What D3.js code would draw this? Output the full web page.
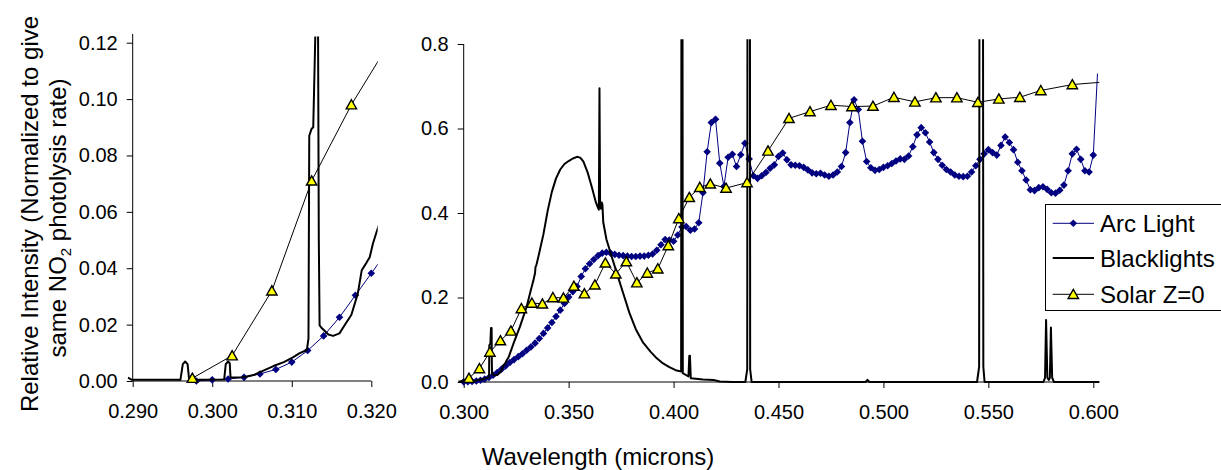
<!DOCTYPE html>
<html>
<head>
<meta charset="utf-8">
<script src="https://cdn.jsdelivr.net/npm/d3@7"></script>
<style>
  body { margin: 0; background: #fff; }
  text { font-family: "Liberation Sans", Arial, sans-serif; fill: #000; }
</style>
</head>
<body>
<script>
// Arc light, sampled every 0.002 micron
const arcWavelength = [
  0.298, 0.300, 0.302, 0.304, 0.306, 0.308, 0.310, 0.312, 0.314, 0.316,
  0.318, 0.320, 0.322, 0.324, 0.326, 0.328, 0.330, 0.332, 0.334, 0.336,
  0.338, 0.340, 0.342, 0.344, 0.346, 0.348, 0.350, 0.352, 0.354, 0.356,
  0.358, 0.360, 0.362, 0.364, 0.366, 0.368, 0.370, 0.372, 0.374, 0.376,
  0.378, 0.380, 0.382, 0.384, 0.386, 0.388, 0.390, 0.392, 0.394, 0.396,
  0.398, 0.400, 0.402, 0.404, 0.406, 0.408, 0.410, 0.412, 0.414, 0.416,
  0.418, 0.420, 0.422, 0.424, 0.426, 0.428, 0.430, 0.432, 0.434, 0.436,
  0.438, 0.440, 0.442, 0.444, 0.446, 0.448, 0.450, 0.452, 0.454, 0.456,
  0.458, 0.460, 0.462, 0.464, 0.466, 0.468, 0.470, 0.472, 0.474, 0.476,
  0.478, 0.480, 0.482, 0.484, 0.486, 0.488, 0.490, 0.492, 0.494, 0.496,
  0.498, 0.500, 0.502, 0.504, 0.506, 0.508, 0.510, 0.512, 0.514, 0.516,
  0.518, 0.520, 0.522, 0.524, 0.526, 0.528, 0.530, 0.532, 0.534, 0.536,
  0.538, 0.540, 0.542, 0.544, 0.546, 0.548, 0.550, 0.552, 0.554, 0.556,
  0.558, 0.560, 0.562, 0.564, 0.566, 0.568, 0.570, 0.572, 0.574, 0.576,
  0.578, 0.580, 0.582, 0.584, 0.586, 0.588, 0.590, 0.592, 0.594, 0.596,
  0.598, 0.600, 0.602
];
const arcIntensity = [
  0.0000, 0.0004, 0.0007, 0.0013, 0.0025, 0.0041, 0.0067, 0.0108, 0.0160, 0.0226,
  0.0304, 0.0382, 0.046, 0.053, 0.060, 0.067, 0.075, 0.083, 0.092, 0.103,
  0.115, 0.128, 0.141, 0.155, 0.170, 0.186, 0.201, 0.214, 0.226, 0.250,
  0.268, 0.280, 0.290, 0.299, 0.305, 0.307, 0.305, 0.302, 0.300, 0.299,
  0.298, 0.297, 0.297, 0.298, 0.298, 0.300, 0.303, 0.312, 0.325, 0.337,
  0.336, 0.333, 0.348, 0.367, 0.368, 0.359, 0.362, 0.377, 0.448, 0.545,
  0.614, 0.622, 0.518, 0.463, 0.532, 0.539, 0.510, 0.538, 0.565, 0.528,
  0.488, 0.482, 0.488, 0.496, 0.506, 0.514, 0.534, 0.542, 0.526, 0.514,
  0.513, 0.512, 0.508, 0.502, 0.495, 0.493, 0.494, 0.490, 0.487, 0.490,
  0.497, 0.510, 0.543, 0.614, 0.668, 0.645, 0.570, 0.522, 0.507, 0.501,
  0.503, 0.508, 0.512, 0.517, 0.523, 0.528, 0.527, 0.535, 0.557, 0.585,
  0.602, 0.590, 0.568, 0.543, 0.527, 0.513, 0.503, 0.497, 0.490, 0.487,
  0.486, 0.487, 0.497, 0.512, 0.527, 0.540, 0.550, 0.543, 0.537, 0.560,
  0.580, 0.567, 0.550, 0.520, 0.500, 0.478, 0.455, 0.453, 0.460, 0.462,
  0.456, 0.448, 0.447, 0.454, 0.466, 0.500, 0.540, 0.551, 0.527, 0.500,
  0.497, 0.537, 0.730
];

// Blacklights, high resolution spectrum (mercury lines go off scale)
const blackWavelength = [
  0.2894, 0.2899, 0.2960, 0.2963, 0.2966, 0.2969, 0.2971, 0.3015, 0.3017, 0.3020,
  0.3022, 0.3023, 0.3027, 0.3039, 0.3052, 0.3065, 0.3077, 0.3090, 0.3102, 0.3110,
  0.3119, 0.3121, 0.3122, 0.3125, 0.3127, 0.3129, 0.3130, 0.3133, 0.3134, 0.3135,
  0.3138, 0.3146, 0.3152, 0.3160, 0.3166, 0.3175, 0.3183, 0.3188, 0.3194, 0.3198,
  0.3202, 0.3206, 0.3215, 0.3238, 0.3268, 0.3300, 0.3320, 0.3332, 0.3340, 0.3342,
  0.3346, 0.3356, 0.3380, 0.3400, 0.3420, 0.3440, 0.3460, 0.3480, 0.3500, 0.3520,
  0.3540, 0.3555, 0.3570, 0.3590, 0.3610, 0.3630, 0.3640, 0.3644, 0.3647, 0.3650,
  0.3655, 0.3658, 0.3661, 0.3665, 0.3680, 0.3705, 0.3730, 0.3760, 0.3790, 0.3820,
  0.3855, 0.3890, 0.3920, 0.3950, 0.3980, 0.4010, 0.4036, 0.4040, 0.4044,
  0.4071, 0.4075, 0.4078, 0.4082, 0.4140, 0.4190, 0.4220, 0.4280, 0.4342, 0.4351,
  0.4356, 0.4360, 0.4365, 0.4372, 0.4915, 0.4924, 0.4933, 0.5446, 0.5456, 0.5463,
  0.5469, 0.5476, 0.5482, 0.5762, 0.5770, 0.5775, 0.5781, 0.5788, 0.5793, 0.5798,
  0.5804, 0.5813, 0.6050
];
const blackIntensity = [
  0.0012, 0.0004, 0.0004, 0.0060, 0.0069, 0.0060, 0.0004, 0.0005, 0.0060, 0.0069,
  0.0063, 0.0013, 0.0012, 0.0013, 0.0021, 0.0038, 0.0053, 0.0067, 0.0085, 0.0099,
  0.0110, 0.0150, 0.0870, 0.0895, 0.0900, 0.1150, 0.1280, 0.1280, 0.0500, 0.0197,
  0.0187, 0.0165, 0.0160, 0.0169, 0.0196, 0.0235, 0.0310, 0.0393, 0.0420, 0.0439,
  0.0487, 0.0523, 0.060, 0.092, 0.131, 0.178, 0.218, 0.240, 0.258, 0.272,
  0.276, 0.297, 0.350, 0.405, 0.450, 0.482, 0.503, 0.516, 0.523, 0.529,
  0.533, 0.531, 0.522, 0.497, 0.462, 0.425, 0.412, 0.408, 0.695, 0.415,
  0.410, 0.425, 0.420, 0.378, 0.338, 0.297, 0.257, 0.210, 0.163, 0.125,
  0.093, 0.072, 0.056, 0.044, 0.035, 0.028, 0.025, 2.500, 0.021,
  0.013, 0.062, 0.062, 0.009, 0.006, 0.005, 0.001, 0.000, 0.000, 0.030,
  4.000, 4.000, 0.030, 0.000, 0.000, 0.005, 0.000, 0.000, 0.036, 4.000,
  4.000, 0.036, 0.000, 0.000, 0.010, 0.147, 0.010, 0.005, 0.010, 0.129,
  0.010, 0.000, 0.000
];

// Solar, zenith angle 0
const solarWavelength = [
  0.2975, 0.3025, 0.3075, 0.3125, 0.3175, 0.3225, 0.3275, 0.3325, 0.3375, 0.3425,
  0.3475, 0.3525, 0.3575, 0.3625, 0.3675, 0.3725, 0.3775, 0.3825, 0.3875, 0.3925,
  0.3975, 0.4025, 0.4075, 0.4125, 0.4175, 0.425, 0.435, 0.445, 0.455, 0.465,
  0.475, 0.485, 0.495, 0.505, 0.515, 0.525, 0.535, 0.545, 0.555, 0.565,
  0.575, 0.590, 0.610
];
const solarIntensity = [
  0.001, 0.009, 0.032, 0.071, 0.098, 0.121, 0.174, 0.187, 0.185, 0.200,
  0.199, 0.227, 0.209, 0.230, 0.282, 0.256, 0.285, 0.235, 0.258, 0.268,
  0.323, 0.387, 0.437, 0.461, 0.469, 0.459, 0.472, 0.547, 0.624, 0.640,
  0.655, 0.652, 0.653, 0.674, 0.663, 0.673, 0.673, 0.662, 0.670, 0.674,
  0.690, 0.704, 0.712
];

const leftXTicks = [0.290, 0.300, 0.310, 0.320];
const leftYTicks = [0, 0.02, 0.04, 0.06, 0.08, 0.10, 0.12];
const rightXTicks = [0.300, 0.350, 0.400, 0.450, 0.500, 0.550, 0.600];
const rightYTicks = [0, 0.2, 0.4, 0.6, 0.8];

const seriesNames = ["Arc Light", "Blacklights", "Solar Z=0"];

const NAVY = "#000080";
const FONT = "'Liberation Sans', Arial, sans-serif";

const arc = arcWavelength.map((w, i) => [w, arcIntensity[i]]);
const black = blackWavelength.map((w, i) => [w, blackIntensity[i]]);
const solar = solarWavelength.map((w, i) => [w, solarIntensity[i]]);

const diamond = "M0,-3.8L3.8,0L0,3.8L-3.8,0Z";
const triangle = "M0,-5L5.2,4.2L-5.2,4.2Z";

const svg = d3.select("body").append("svg")
    .attr("width", 1221)
    .attr("height", 470);

svg.append("rect").attr("width", 1221).attr("height", 470).attr("fill", "#fff");

const panels = [
  {
    xDomain: [0.290, 0.320], xRange: [132.7, 371.3],
    yDomain: [0, 0.12], yRange: [381, 42.7],
    xTicks: leftXTicks, yTicks: leftYTicks, yFmt: ".2f",
    clip: [127.5, 36.5, 377.7, 387], xEnd: 371.3, yTop: 34
  },
  {
    xDomain: [0.300, 0.600], xRange: [463.7, 1093.3],
    yDomain: [0, 0.8], yRange: [382, 44],
    xTicks: rightXTicks, yTicks: rightYTicks, yFmt: ".1f",
    clip: [458.5, 39.3, 1099.3, 388], xEnd: 1099.3, yTop: 44
  }
];

panels.forEach((p, i) => {
  const x = d3.scaleLinear().domain(p.xDomain).range(p.xRange);
  const y = d3.scaleLinear().domain(p.yDomain).range(p.yRange);

  svg.append("clipPath").attr("id", "clip" + i)
    .append("rect")
      .attr("x", p.clip[0]).attr("y", p.clip[1])
      .attr("width", p.clip[2] - p.clip[0])
      .attr("height", p.clip[3] - p.clip[1]);

  // axes
  const gx = svg.append("g")
      .attr("transform", "translate(0," + p.yRange[0] + ")")
      .call(d3.axisBottom(x).tickValues(p.xTicks).tickFormat(d3.format(".3f"))
        .tickSize(6).tickSizeOuter(0).tickPadding(17));
  gx.select(".domain").remove();
  gx.attr("font-family", FONT).attr("font-size", 20);
  gx.selectAll("line").attr("stroke", "#000");

  const gy = svg.append("g")
      .attr("transform", "translate(" + p.xRange[0] + ",0)")
      .call(d3.axisLeft(y).tickValues(p.yTicks).tickFormat(d3.format(p.yFmt))
        .tickSize(6).tickSizeOuter(0).tickPadding(9));
  gy.select(".domain").remove();
  gy.attr("font-family", FONT).attr("font-size", 20);
  gy.selectAll("line").attr("stroke", "#000");

  svg.append("line")
      .attr("x1", p.xRange[0]).attr("x2", p.xEnd)
      .attr("y1", p.yRange[0]).attr("y2", p.yRange[0])
      .attr("stroke", "#000").attr("stroke-width", 1);
  svg.append("line")
      .attr("x1", p.xRange[0]).attr("x2", p.xRange[0])
      .attr("y1", p.yTop).attr("y2", p.yRange[0])
      .attr("stroke", "#000").attr("stroke-width", 1);

  const plot = svg.append("g").attr("clip-path", "url(#clip" + i + ")");
  const line = d3.line().x(d => x(d[0])).y(d => y(d[1]));
  const inside = d => d[0] >= p.xDomain[0] - 1e-6 && d[0] <= p.xDomain[1] + 1e-6 &&
                      d[1] >= p.yDomain[0] && d[1] <= p.yDomain[1];

  // Arc Light
  plot.append("path").datum(arc)
      .attr("d", line).attr("fill", "none")
      .attr("stroke", NAVY).attr("stroke-width", 1);
  plot.append("g").selectAll("path")
    .data(arc.filter(inside))
    .join("path")
      .attr("transform", d => "translate(" + x(d[0]) + "," + y(d[1]) + ")")
      .attr("d", diamond)
      .attr("fill", NAVY);

  // Blacklights
  plot.append("path").datum(black)
      .attr("d", line).attr("fill", "none")
      .attr("stroke", "#000").attr("stroke-width", 2)
      .attr("stroke-linejoin", "round");

  // Solar Z=0
  plot.append("path").datum(solar)
      .attr("d", line).attr("fill", "none")
      .attr("stroke", "#000").attr("stroke-width", 1);
  plot.append("g").selectAll("path")
    .data(solar.filter(inside))
    .join("path")
      .attr("transform", d => "translate(" + x(d[0]) + "," + y(d[1]) + ")")
      .attr("d", triangle)
      .attr("fill", "#ffff00")
      .attr("stroke", "#000").attr("stroke-width", 1.4);
});

// axis titles
svg.append("text")
    .attr("x", 598).attr("y", 465)
    .attr("text-anchor", "middle")
    .attr("font-size", 24)
    .text("Wavelength (microns)");

svg.append("text")
    .attr("transform", "translate(37.5,214) rotate(-90)")
    .attr("text-anchor", "middle")
    .attr("font-size", 24)
    .text("Relative Intensity (Normalized to give");

const t2 = svg.append("text")
    .attr("transform", "translate(66,218) rotate(-90)")
    .attr("text-anchor", "middle")
    .attr("font-size", 24);
t2.append("tspan").text("same NO");
t2.append("tspan").attr("font-size", 15).attr("dy", 5).text("2");
t2.append("tspan").attr("dy", -5).text(" photolysis rate)");

// legend
const legend = svg.append("g");
legend.append("rect")
    .attr("x", 1045.5).attr("y", 204.5)
    .attr("width", 200).attr("height", 106)
    .attr("fill", "#fff").attr("stroke", "#000").attr("stroke-width", 1);

const rowY = [223.3, 258, 294.3];
seriesNames.forEach((name, i) => {
  const yy = rowY[i];
  legend.append("line")
      .attr("x1", 1052.7).attr("x2", 1094)
      .attr("y1", yy).attr("y2", yy)
      .attr("stroke", i === 0 ? NAVY : "#000")
      .attr("stroke-width", i === 1 ? 2 : 1);
  if (i === 0) {
    legend.append("path").attr("transform", "translate(1073.3," + yy + ")")
        .attr("d", diamond).attr("fill", NAVY);
  }
  if (i === 2) {
    legend.append("path").attr("transform", "translate(1073.3," + yy + ")")
        .attr("d", triangle).attr("fill", "#ffff00")
        .attr("stroke", "#000").attr("stroke-width", 1.4);
  }
  legend.append("text")
      .attr("x", 1100).attr("y", yy + 8.5)
      .attr("font-size", 24)
      .text(name);
});
</script>
</body>
</html>
